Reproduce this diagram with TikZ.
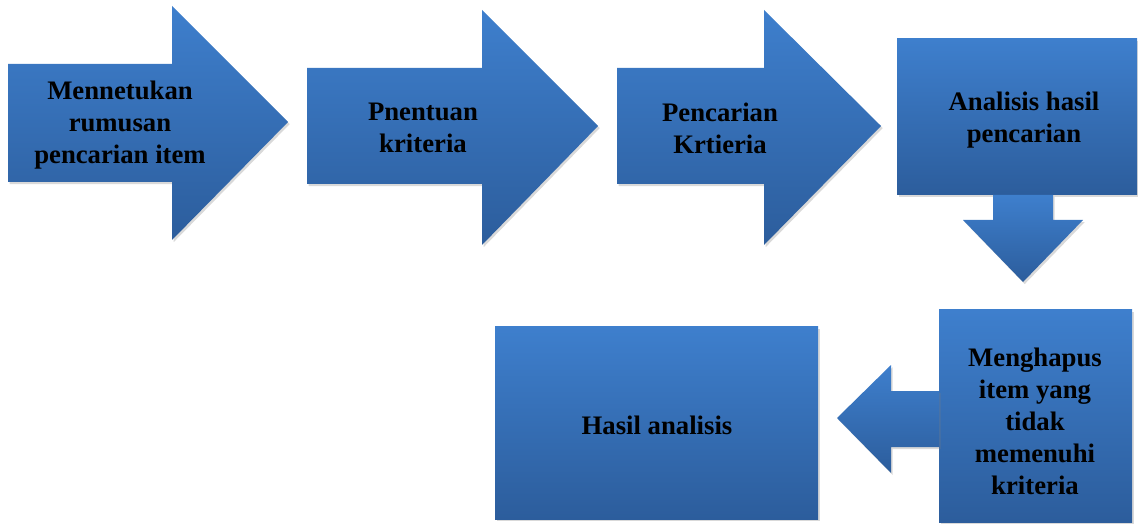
\documentclass[tikz,border=0pt]{standalone}
\usepackage{fontspec}
\setmainfont{Liberation Serif}
\usetikzlibrary{shadows, positioning}
\definecolor{blocktop}{RGB}{62, 127, 205}
\definecolor{blockbottom}{RGB}{44, 93, 156}

\begin{document}
\begin{tikzpicture}[
    x=0.025cm, y=-0.025cm,
    block shape/.style={
        top color=blocktop, bottom color=blockbottom, draw=none,
        drop shadow={shadow xshift=1.2pt, shadow yshift=-1.5pt, opacity=0.3}
    },
    block text/.style={
        align=center, text=black,
        font=\fontsize{19}{22.8}\selectfont\bfseries
    }
]

\useasboundingbox (0,0) rectangle (1138,524);

% Top row arrows
\path[block shape] (8,64) -- (172,64) -- (172,6) -- (288,122) -- (172,240) -- (172,182) -- (8,182) -- cycle;
\path[block shape] (307,68) -- (482,68) -- (482,10) -- (598,126) -- (482,245) -- (482,184) -- (307,184) -- cycle;
\path[block shape] (617,68) -- (764,68) -- (764,10) -- (881,126) -- (764,245) -- (764,184) -- (617,184) -- cycle;

% Analysis box with down arrow
\path[block shape] (897,39) rectangle (1137,195);
\path[block shape] (993,195) -- (1053,195) -- (1053,220) -- (1083,220) -- (1023,282) -- (963,220) -- (993,220) -- cycle;

% Removal box with left arrow
\path[block shape] (939,310) rectangle (1132,522);
\path[block shape] (939,391) -- (891,391) -- (891,365) -- (837,418) -- (891,473) -- (891,447) -- (939,447) -- cycle;

% Result box
\path[block shape] (495,327) rectangle (818,519);

% Labels
\node[block text] (RumusanText) at (120,125) {Mennetukan\\rumusan\\pencarian item};
\node[block text] (PenentuanText) at (423,128) {Pnentuan\\kriteria};
\node[block text] (PencarianText) at (720,128) {Pencarian\\Krtieria};
\node[block text] (AnalisisText) at (1024,120) {Analisis hasil\\pencarian};
\node[block text] (HapusText) at (1035,421) {Menghapus\\item yang\\tidak\\memenuhi\\kriteria};
\node[block text] (HasilText) at (657,425) {Hasil analisis};

\end{tikzpicture}
\end{document}
